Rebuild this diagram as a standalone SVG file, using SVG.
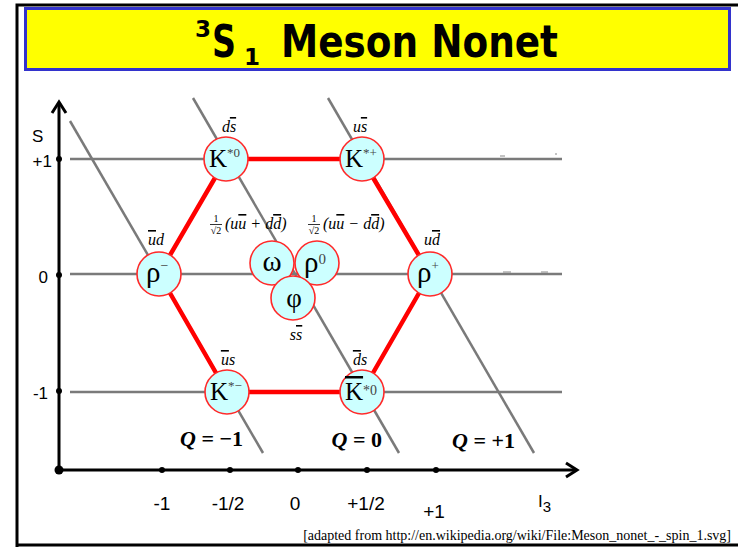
<svg xmlns="http://www.w3.org/2000/svg" width="738" height="547" viewBox="0 0 738 547">
<style>
.grid{stroke:#7a7a7a;stroke-width:2.5;fill:none}
.art{stroke:#888;stroke-width:1}
.edge{stroke:#ff0000;stroke-width:4.5;fill:none;stroke-linecap:round}
.node circle{fill:#ccffff;stroke:#ff2a2a;stroke-width:1.6}
.ax{stroke:#000;stroke-width:3;fill:none}
.axl{font-family:"Liberation Sans",Arial,sans-serif;font-size:17px;fill:#000}
.xl{font-size:19px}
.sym{font-family:"Liberation Serif","Times New Roman",serif;fill:#000}
.sup{font-family:"Liberation Serif","Times New Roman",serif;fill:#444}
.q{font-family:"Liberation Serif","Times New Roman",serif;font-style:italic;font-size:16px;fill:#000}
.ql{font-family:"Liberation Serif","Times New Roman",serif;font-weight:bold;font-size:22px;fill:#000}
.ob{text-decoration:overline}
.title{font-family:"DejaVu Sans",sans-serif;font-weight:bold;fill:#000}
</style>
<rect x="0" y="0" width="738" height="547" fill="#fff"/>
<g id="frame">
<path d="M17 547 V5 H738" stroke="#000" stroke-width="3" fill="none"/>
<line x1="17" y1="545" x2="738" y2="545" stroke="#000" stroke-width="3"/>
</g>
<g id="title">
<rect x="25.5" y="8.5" width="704" height="61" fill="#ffff00" stroke="#3333cc" stroke-width="3"/>
<text class="title" x="195" y="37" font-size="23">3</text>
<text class="title" x="212" y="57" font-size="45" textLength="24" lengthAdjust="spacingAndGlyphs">S</text>
<text class="title" x="244" y="65" font-size="23">1</text>
<text class="title" x="281" y="57" font-size="45" textLength="277" lengthAdjust="spacingAndGlyphs">Meson Nonet</text>
</g>
<g id="grid">
<line class="grid" x1="70" y1="159" x2="562" y2="159"/>
<line class="grid" x1="70" y1="274" x2="562" y2="274"/>
<line class="grid" x1="70" y1="392" x2="562" y2="392"/>
<line class="grid" x1="70" y1="121" x2="263" y2="453"/>
<line class="grid" x1="193" y1="98" x2="399" y2="453"/>
<line class="grid" x1="328" y1="98" x2="534" y2="453"/>
<line class="art" x1="500" y1="156" x2="505" y2="156"/>
<line class="art" x1="555" y1="154" x2="557" y2="154"/>
<line class="art" x1="503" y1="272" x2="511" y2="272"/>
<line class="art" x1="541" y1="272" x2="548" y2="272"/>
</g>
<g id="axes">
<line class="ax" x1="59" y1="470" x2="59" y2="103"/>
<path class="ax" d="M52 113 L59 102 L66 113"/>
<line class="ax" x1="59" y1="470" x2="576" y2="470"/>
<path class="ax" d="M566 463 L577 470 L566 477"/>
<circle cx="59" cy="470" r="4.5" fill="#000"/>
<circle cx="59" cy="159" r="3" fill="#000"/>
<circle cx="59" cy="275" r="3" fill="#000"/>
<circle cx="59" cy="391" r="3" fill="#000"/>
<circle cx="162" cy="470" r="3" fill="#000"/>
<circle cx="230" cy="470" r="3" fill="#000"/>
<circle cx="298" cy="470" r="3" fill="#000"/>
<circle cx="367" cy="470" r="3" fill="#000"/>
<circle cx="436" cy="470" r="3" fill="#000"/>
<text class="axl" x="32" y="142" font-size="20">S</text>
<text class="axl" x="52" y="167" text-anchor="end">+1</text>
<text class="axl" x="48" y="283" text-anchor="end">0</text>
<text class="axl" x="48" y="399" text-anchor="end">-1</text>
<text class="axl xl" x="162" y="510" text-anchor="middle">-1</text>
<text class="axl xl" x="228" y="510" text-anchor="middle">-1/2</text>
<text class="axl xl" x="295" y="510" text-anchor="middle">0</text>
<text class="axl xl" x="366" y="510" text-anchor="middle">+1/2</text>
<text class="axl xl" x="434" y="518" text-anchor="middle">+1</text>
<text class="axl" x="538" y="507" font-size="22">I<tspan font-size="15" dy="5">3</tspan></text>
</g>
<g id="connectors">
<line class="edge" x1="226" y1="159" x2="362" y2="159"/>
<line class="edge" x1="362" y1="159" x2="430" y2="274"/>
<line class="edge" x1="430" y1="274" x2="362" y2="392"/>
<line class="edge" x1="362" y1="392" x2="227" y2="392"/>
<line class="edge" x1="227" y1="392" x2="159" y2="274"/>
<line class="edge" x1="159" y1="274" x2="226" y2="159"/>
</g>
<g id="K0" class="node">
<circle cx="226" cy="159" r="22"/>
<text class="sym" x="209" y="167" font-size="25">K<tspan class="sup" font-size="13" dy="-10">*0</tspan></text>
<text class="q" x="229" y="132" text-anchor="middle">d<tspan class="ob">s</tspan></text>
</g>
<g id="Kplus" class="node">
<circle cx="362" cy="159" r="22"/>
<text class="sym" x="345" y="167" font-size="25">K<tspan class="sup" font-size="13" dy="-10">*+</tspan></text>
<text class="q" x="360" y="132" text-anchor="middle">u<tspan class="ob">s</tspan></text>
</g>
<g id="rhominus" class="node">
<circle cx="159" cy="274" r="22"/>
<text class="sym" x="146" y="282" font-size="29">ρ<tspan class="sup" font-size="14" dy="-12">−</tspan></text>
<text class="q" x="156" y="245" text-anchor="middle"><tspan class="ob">u</tspan>d</text>
</g>
<g id="rhoplus" class="node">
<circle cx="430" cy="274" r="22"/>
<text class="sym" x="417" y="282" font-size="29">ρ<tspan class="sup" font-size="13" dy="-12">+</tspan></text>
<text class="q" x="432" y="245" text-anchor="middle">u<tspan class="ob">d</tspan></text>
</g>
<g id="Kminus" class="node">
<circle cx="227" cy="392" r="22"/>
<text class="sym" x="210" y="400" font-size="25">K<tspan class="sup" font-size="13" dy="-10">*−</tspan></text>
<text class="q" x="228" y="365" text-anchor="middle"><tspan class="ob">u</tspan>s</text>
</g>
<g id="Kbar0" class="node">
<circle cx="362" cy="392" r="22"/>
<text class="sym" x="345" y="400" font-size="25"><tspan class="ob">K</tspan><tspan class="sup" font-size="14" dy="-5">*0</tspan></text>
<text class="q" x="360" y="365" text-anchor="middle"><tspan class="ob">d</tspan>s</text>
</g>
<g id="omega" class="node">
<circle cx="272" cy="263" r="22"/>
<text class="sym" x="272" y="271" font-size="29" text-anchor="middle">ω</text>
</g>
<g id="rho0" class="node">
<circle cx="317" cy="263" r="22"/>
<text class="sym" x="304" y="272" font-size="29">ρ<tspan class="sup" font-size="15" dy="-8">0</tspan></text>
</g>
<g id="phi" class="node">
<circle cx="293" cy="298" r="22"/>
<text class="sym" x="294" y="307" font-size="27" text-anchor="middle">φ</text>
<text class="q" x="296" y="340" text-anchor="middle">s<tspan class="ob">s</tspan></text>
</g>
<g id="mix">
<g class="sym" font-size="10" text-anchor="middle">
<text x="216" y="222">1</text>
<text x="216" y="234">√2</text>
<text x="314" y="222">1</text>
<text x="314" y="234">√2</text>
</g>
<line x1="210" y1="224.5" x2="222" y2="224.5" stroke="#000" stroke-width="0.8"/>
<line x1="308" y1="224.5" x2="320" y2="224.5" stroke="#000" stroke-width="0.8"/>
<text class="q" x="225" y="229">(u<tspan class="ob">u</tspan> + d<tspan class="ob">d</tspan>)</text>
<text class="q" x="323" y="229">(u<tspan class="ob">u</tspan> − d<tspan class="ob">d</tspan>)</text>
</g>
<g id="charges">
<text class="ql" x="243" y="446" text-anchor="end"><tspan font-style="italic">Q</tspan> = −1</text>
<text class="ql" x="382" y="447" text-anchor="end"><tspan font-style="italic">Q</tspan> = 0</text>
<text class="ql" x="515" y="448" text-anchor="end"><tspan font-style="italic">Q</tspan> = +1</text>
</g>
<text x="731" y="540" text-anchor="end" font-family="'Liberation Serif','Times New Roman',serif" font-size="14" fill="#000">[adapted from http://en.wikipedia.org/wiki/File:Meson_nonet_-_spin_1.svg]</text>
</svg>
